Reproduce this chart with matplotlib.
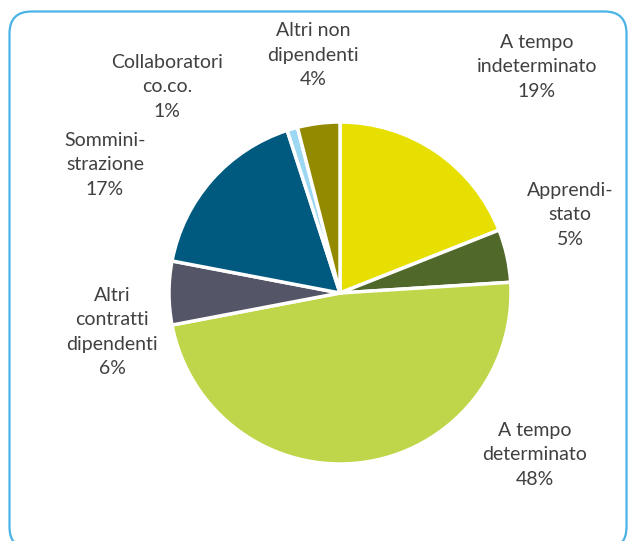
import matplotlib
matplotlib.use("Agg")
import matplotlib.pyplot as plt
from matplotlib.patches import FancyBboxPatch

categories = ["A tempo\nindeterminato", "Apprendi-\nstato", "A tempo\ndeterminato",
              "Altri\ncontratti\ndipendenti", "Sommini-\nstrazione",
              "Collaboratori\nco.co.", "Altri non\ndipendenti"]
values = [19, 5, 48, 6, 17, 1, 4]
colors = ["#E6DF00", "#50682A", "#BFD64A", "#555568", "#005A80", "#9DD8F2", "#948A00"]
# label centres in pixel coordinates (x, y from top)
label_pos = [(537, 67), (570, 215), (535, 455), (112, 332), (105, 165), (167, 87), (313, 55)]

W, H = 635, 541
fig = plt.figure(figsize=(W / 100, H / 100), dpi=100)
ax = fig.add_axes([0, 0, 1, 1])
ax.pie(values, colors=colors, startangle=90, counterclock=False,
       center=(340, H - 293), radius=171,
       wedgeprops=dict(edgecolor="white", linewidth=2.5))
ax.set_xlim(0, W)
ax.set_ylim(0, H)
ax.set_aspect("equal")
ax.axis("off")

total = sum(values)
for cat, v, (x, y) in zip(categories, values, label_pos):
    ax.text(x, H - y, f"{cat}\n{round(100 * v / total)}%", ha="center", va="center",
            fontsize=14, family="Lato", color="#404040", linespacing=1.52)

border = FancyBboxPatch((9.5, -8), 617, H - 11.5 + 8,
                        boxstyle="round,pad=0,rounding_size=22",
                        transform=None, fill=False, edgecolor="#4BB4E6", linewidth=1.6)
fig.patches.append(border)

fig.savefig("out.png", dpi=100)
